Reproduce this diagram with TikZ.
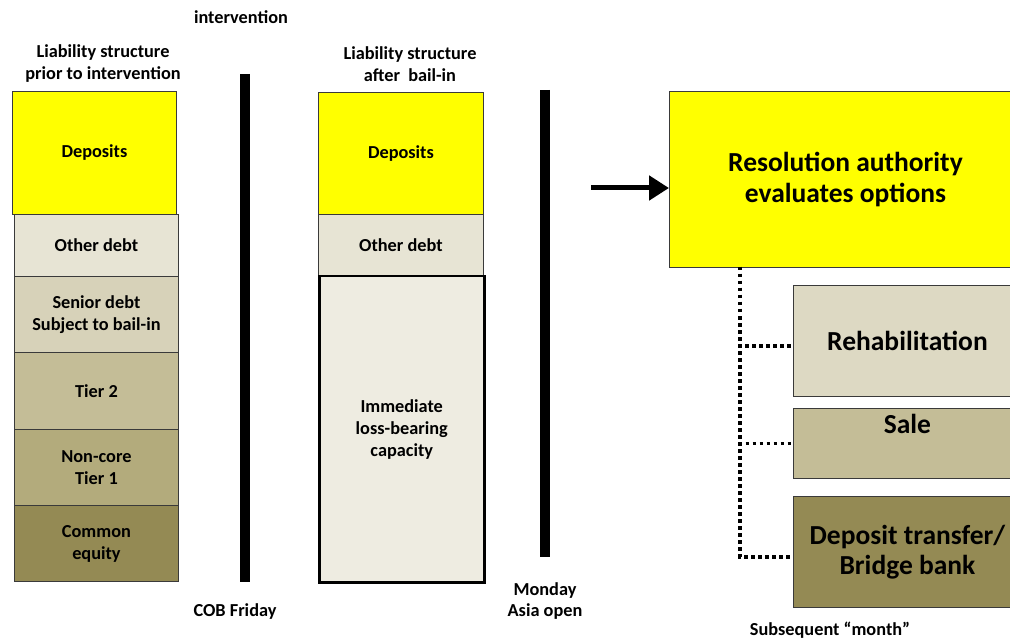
\documentclass[tikz,border=0pt]{standalone}
\usepackage{fontspec}
\setmainfont{Carlito}
\usetikzlibrary{arrows.meta}
\definecolor{dep}{HTML}{FFFF00}
\definecolor{oth}{HTML}{E7E4D4}
\definecolor{sen}{HTML}{D7D2B9}
\definecolor{tiertwo}{HTML}{C4BD97}
\definecolor{noncore}{HTML}{B3AB7C}
\definecolor{equity}{HTML}{948A54}
\definecolor{imm}{HTML}{EEECE1}
\definecolor{rehab}{HTML}{DDD9C3}
\definecolor{edge}{HTML}{3A3A3A}
\tikzset{
  layer/.style={draw=edge, line width=0.9pt, anchor=north west, inner sep=0pt,
    align=center, font=\fontsize{18.3}{22}\selectfont\bfseries},
  bigbox/.style={draw=edge, line width=0.9pt, anchor=north west, inner sep=0pt,
    align=center, font=\fontsize{27.5}{30.5}\selectfont\bfseries},
  caption/.style={align=center, font=\fontsize{18.3}{21.5}\selectfont\bfseries, inner sep=0pt},
  bar/.style={line width=10pt, black},
  dotline/.style={line width=3.5pt, dash pattern=on 3.5pt off 3.5pt, black},
  bigarrow/.style={line width=5pt, -{Triangle[length=20pt,width=24pt]}}
}
\begin{document}
\begin{tikzpicture}[x=1pt,y=-1pt]
\useasboundingbox (0,0) rectangle (1010,639);
\clip (0,0) rectangle (1010,639);

% title
\node[caption] (title) at (241,17) {intervention};

% left column
\node[caption] (lhead) at (103,63.5) {Liability structure\\prior to intervention};
\node[layer, fill=dep, minimum width=164pt, minimum height=123pt] (ldep) at (12,91) {Deposits};
\node[layer, fill=oth, minimum width=164pt, minimum height=62pt] (loth) at (14,214) {Other debt};
\node[layer, fill=sen, minimum width=164pt, minimum height=76pt] (lsen) at (14,276) {Senior debt\\Subject to bail-in};
\node[layer, fill=tiertwo, minimum width=164pt, minimum height=77pt] (ltier) at (14,352) {Tier 2};
\node[layer, fill=noncore, minimum width=164pt, minimum height=76pt] (lnon) at (14,429) {Non-core\\Tier 1};
\node[layer, fill=equity, minimum width=164pt, minimum height=76pt] (lequ) at (14,505) {Common\\equity};

% bar 1
\coordinate (b1top) at (244.5,74);
\coordinate (b1bot) at (244.5,582);
\draw[bar] (b1top) -- (b1bot);
\node[caption] (cob) at (235,612) {COB Friday};

% middle column
\node[caption] (mhead) at (410,64) {Liability structure\\after\ \ bail-in};
\node[layer, fill=dep, minimum width=165pt, minimum height=122pt] (mdep) at (318,92) {Deposits};
\node[layer, fill=oth, minimum width=165pt, minimum height=61pt] (moth) at (318,214) {Other debt};
\node[layer, draw=black, line width=2.5pt, fill=imm, minimum width=165pt, minimum height=306pt] (mimm) at (318,275) {Immediate\\loss-bearing\\capacity};

% bar 2
\coordinate (b2top) at (545,90);
\coordinate (b2bot) at (545,557);
\draw[bar] (b2top) -- (b2bot);
\node[caption] (mon) at (545,601) {Monday\\Asia open};

% right side
\node[bigbox, fill=dep, minimum width=352pt, minimum height=176pt] (res) at (669,91) {Resolution authority\\evaluates options};
\coordinate (arrstart) at (591,188);
\draw[bigarrow] (arrstart) -- (res.west |- arrstart);

\node[bigbox, fill=rehab, minimum width=228pt, minimum height=111pt] (reh) at (793,285) {Rehabilitation};
\node[bigbox, fill=tiertwo, minimum width=228pt, minimum height=70pt,
  label={[font=\fontsize{27.5}{30.5}\selectfont\bfseries, anchor=north, inner sep=0pt, yshift=-6pt]north:Sale}] (sale) at (793,408) {};
\node[bigbox, fill=equity, minimum width=228pt, minimum height=111pt] (dtb) at (793,496) {Deposit transfer/\\Bridge bank};

\coordinate (trunk) at (740,267);
\draw[dotline] (trunk) |- ([yshift=-5pt]reh.west);
\draw[dotline] (trunk) |- (sale.west);
\draw[dotline] (trunk) |- ([yshift=-5pt]dtb.west);

\node[caption] (subs) at (830,630) {Subsequent “month”};
\end{tikzpicture}
\end{document}
